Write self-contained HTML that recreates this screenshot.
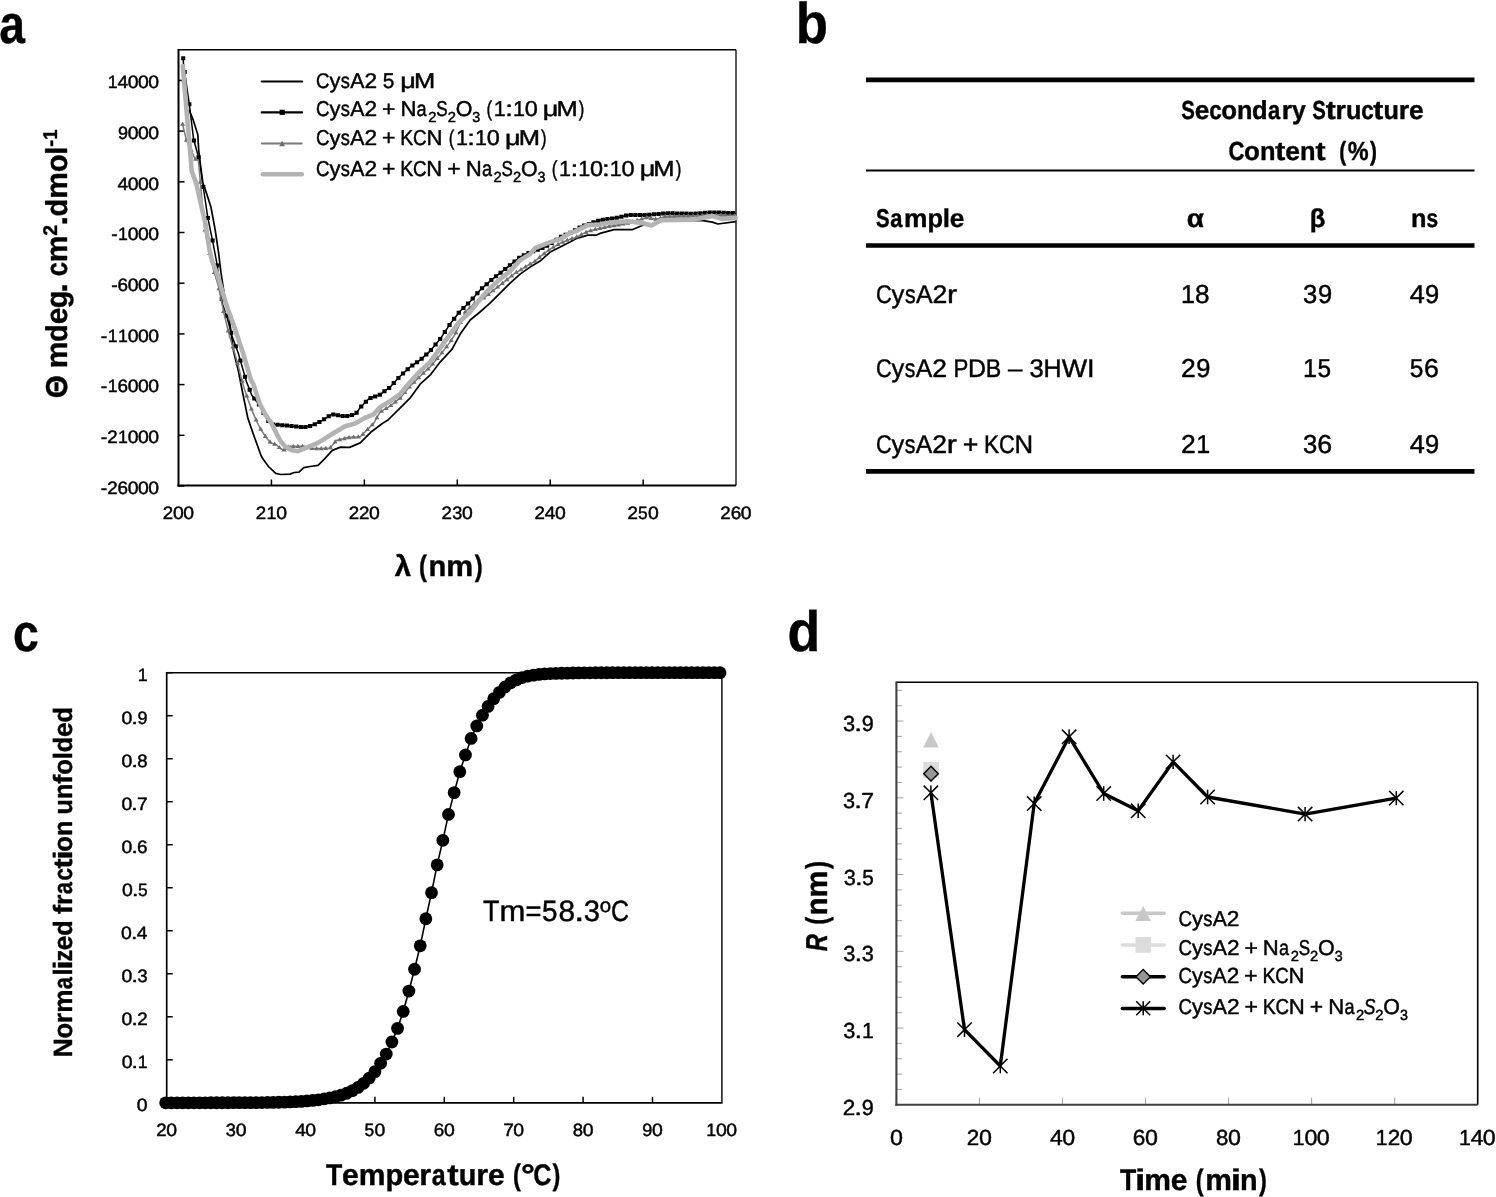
<!DOCTYPE html>
<html><head><meta charset="utf-8"><title>Figure</title><style>html,body{margin:0;padding:0;background:#fff;overflow:hidden}svg{display:block;text-rendering:geometricPrecision;will-change:transform}</style></head><body>
<svg width="1496" height="1197" viewBox="0 0 1496 1197"><line x1="178.5" y1="49.8" x2="736" y2="49.8" stroke="#000" stroke-width="1.6"/>
<line x1="736" y1="49.8" x2="736" y2="485.5" stroke="#000" stroke-width="1.3"/>
<line x1="178.5" y1="49" x2="178.5" y2="486.5" stroke="#000" stroke-width="2"/>
<line x1="177.5" y1="485.5" x2="736" y2="485.5" stroke="#000" stroke-width="2"/>
<line x1="178.5" y1="80.4" x2="184.5" y2="80.4" stroke="#000" stroke-width="1.5"/>
<line x1="178.5" y1="131.1" x2="184.5" y2="131.1" stroke="#000" stroke-width="1.5"/>
<line x1="178.5" y1="181.8" x2="184.5" y2="181.8" stroke="#000" stroke-width="1.5"/>
<line x1="178.5" y1="232.5" x2="184.5" y2="232.5" stroke="#000" stroke-width="1.5"/>
<line x1="178.5" y1="283.2" x2="184.5" y2="283.2" stroke="#000" stroke-width="1.5"/>
<line x1="178.5" y1="333.9" x2="184.5" y2="333.9" stroke="#000" stroke-width="1.5"/>
<line x1="178.5" y1="384.6" x2="184.5" y2="384.6" stroke="#000" stroke-width="1.5"/>
<line x1="178.5" y1="435.3" x2="184.5" y2="435.3" stroke="#000" stroke-width="1.5"/>
<line x1="178.5" y1="486" x2="184.5" y2="486" stroke="#000" stroke-width="1.5"/>
<line x1="271.43" y1="485.5" x2="271.43" y2="479.5" stroke="#000" stroke-width="1.5"/>
<line x1="364.36" y1="485.5" x2="364.36" y2="479.5" stroke="#000" stroke-width="1.5"/>
<line x1="457.29" y1="485.5" x2="457.29" y2="479.5" stroke="#000" stroke-width="1.5"/>
<line x1="550.22" y1="485.5" x2="550.22" y2="479.5" stroke="#000" stroke-width="1.5"/>
<line x1="643.15" y1="485.5" x2="643.15" y2="479.5" stroke="#000" stroke-width="1.5"/>
<polyline points="189,109.7 193.2,119.9 197.8,134.6 198.7,150 200.5,165.2 202.8,182.7 206.9,194.4 211,207.3 215.1,229.5 218.6,252.9 220.9,272.2 224.5,296 228.8,315.1 233.6,351.6 238.3,370.6 242.5,392 247.9,418.3 253.5,434.6 261.2,456 263.2,459.3 268.5,466.5 275.7,473.3 280.9,474.5 290.1,474.1 294.1,472.5 298.9,472.1 303.8,467.7 310,466.5 318,465.4 324.1,459.4 332.3,450.4 340.6,447.1 349.6,447.4 360.2,442.9 370.7,432.3 382.7,423.3 388,420 400,408.2 410,398.2 420.1,384.2 430.1,375.2 440.1,362.1 452.1,349.1 460.2,334.1 470.2,320 480,312 490,303.2 500.1,293.2 510.1,283.1 520.1,274.1 530.1,267.1 540.1,261.1 550.2,252.1 560.2,247.1 570,242.1 575.3,238.9 587.8,235.1 596.6,235.1 600,233.4 614,229.6 632.8,229.6 642.1,225.4 651.5,224 665.5,220.3 702.9,220.7 712.3,222.1 717.9,224 735.7,221.7" fill="none" stroke="#000" stroke-width="1.7" stroke-linejoin="round"/>
<polyline points="183.1,58.3 183.5,63.8 186.5,85 189.5,105.6 193.6,139.2 197.5,153.5 199.2,159.5 203.4,188 207.8,217.6 212.5,240.3 216.9,263.5 222.5,304 227.2,318 232,336 238.3,353.2 246.5,381.7 251.8,395.2 255.8,400.5 259.8,405.5 263.7,413 267,419.5 270.5,423.5 273.3,424.6 282.7,425.2 293.1,426.2 303.6,427.3 309,426.3 315,424.2 322.6,420.3 331.6,414.3 345.1,416.5 355.6,414.3 360.2,407.5 369.2,398.5 380,394.7 390,387.2 400,376.2 410,367.1 420,360.1 430.1,351.1 440.1,339.1 450.1,324 460.2,311 470.2,301.5 480,290.2 490,281.1 500.1,273.1 510.1,265.1 520.1,257.1 530.1,252.1 540.1,249.1 550.2,244.1 560.2,237.1 570,233 581.6,226.3 600.4,220.1 618.7,217.5 628.1,215.1 646.8,215.1 665.5,213.2 693.6,213.7 712.3,212.3 735.7,213.2" fill="none" stroke="#000" stroke-width="1.5" stroke-linejoin="round"/>
<path d="M181.2 56.3h4v4h-4zM182.55 69.93h4.2v4h-4.2zM187.2 102.2h4.2v4h-4.2zM191.84 138.46h4.2v4h-4.2zM196.49 155.35h4.2v4h-4.2zM201.14 184.89h4.2v4h-4.2zM205.78 216h4.2v4h-4.2zM210.43 238.45h4.2v4h-4.2zM215.08 263.49h4.2v4h-4.2zM219.72 297.1h4.2v4h-4.2zM224.37 313.82h4.2v4h-4.2zM229.02 330.68h4.2v4h-4.2zM233.66 344.27h4.2v4h-4.2zM238.31 358.53h4.2v4h-4.2zM242.95 374.68h4.2v4h-4.2zM247.6 387.85h4.2v4h-4.2zM252.25 396.58h4.2v4h-4.2zM256.89 402.49h4.2v4h-4.2zM261.54 410.89h4.2v4h-4.2zM266.19 418.97h4.2v4h-4.2zM270.83 422.46h4.2v4h-4.2zM275.48 422.87h4.2v4h-4.2zM280.13 423.17h4.2v4h-4.2zM284.77 423.6h4.2v4h-4.2zM289.42 424.05h4.2v4h-4.2zM294.07 424.52h4.2v4h-4.2zM298.71 425.01h4.2v4h-4.2zM303.36 424.96h4.2v4h-4.2zM308.01 423.91h4.2v4h-4.2zM312.65 422.29h4.2v4h-4.2zM317.3 419.94h4.2v4h-4.2zM321.95 417.34h4.2v4h-4.2zM326.59 414.24h4.2v4h-4.2zM331.24 412.58h4.2v4h-4.2zM335.88 413.34h4.2v4h-4.2zM340.53 414.1h4.2v4h-4.2zM345.18 414.04h4.2v4h-4.2zM349.82 413.07h4.2v4h-4.2zM354.47 410.87h4.2v4h-4.2zM359.12 404.48h4.2v4h-4.2zM363.76 399.84h4.2v4h-4.2zM368.41 396.04h4.2v4h-4.2zM373.06 394.4h4.2v4h-4.2zM377.7 392.77h4.2v4h-4.2zM382.35 389.36h4.2v4h-4.2zM387 385.88h4.2v4h-4.2zM391.64 381.08h4.2v4h-4.2zM396.29 375.97h4.2v4h-4.2zM400.94 371.44h4.2v4h-4.2zM405.58 367.21h4.2v4h-4.2zM410.23 363.47h4.2v4h-4.2zM414.88 360.22h4.2v4h-4.2zM419.52 356.66h4.2v4h-4.2zM424.17 352.51h4.2v4h-4.2zM428.81 348.12h4.2v4h-4.2zM433.46 342.55h4.2v4h-4.2zM438.11 336.94h4.2v4h-4.2zM442.75 329.92h4.2v4h-4.2zM447.4 322.91h4.2v4h-4.2zM452.05 316.79h4.2v4h-4.2zM456.69 310.81h4.2v4h-4.2zM461.34 305.92h4.2v4h-4.2zM465.99 301.51h4.2v4h-4.2zM470.63 296.58h4.2v4h-4.2zM475.28 291.22h4.2v4h-4.2zM479.93 286.36h4.2v4h-4.2zM484.57 282.13h4.2v4h-4.2zM489.22 278.06h4.2v4h-4.2zM493.87 274.37h4.2v4h-4.2zM498.51 270.69h4.2v4h-4.2zM503.16 266.97h4.2v4h-4.2zM507.81 263.26h4.2v4h-4.2zM512.45 259.54h4.2v4h-4.2zM517.1 255.82h4.2v4h-4.2zM521.74 253.23h4.2v4h-4.2zM526.39 250.9h4.2v4h-4.2zM531.04 249.19h4.2v4h-4.2zM535.68 247.79h4.2v4h-4.2zM540.33 245.95h4.2v4h-4.2zM544.98 243.65h4.2v4h-4.2zM549.62 241.03h4.2v4h-4.2zM554.27 237.78h4.2v4h-4.2zM558.92 234.76h4.2v4h-4.2zM563.56 232.81h4.2v4h-4.2zM568.21 230.82h4.2v4h-4.2zM572.86 228.14h4.2v4h-4.2zM577.5 225.45h4.2v4h-4.2zM582.15 223.43h4.2v4h-4.2zM586.8 221.89h4.2v4h-4.2zM591.44 220.36h4.2v4h-4.2zM596.09 218.83h4.2v4h-4.2zM600.73 217.75h4.2v4h-4.2zM605.38 217.09h4.2v4h-4.2zM610.03 216.43h4.2v4h-4.2zM614.67 215.77h4.2v4h-4.2zM619.32 214.81h4.2v4h-4.2zM623.97 213.62h4.2v4h-4.2zM628.61 213.1h4.2v4h-4.2zM633.26 213.1h4.2v4h-4.2zM637.91 213.1h4.2v4h-4.2zM642.55 213.1h4.2v4h-4.2zM647.2 212.85h4.2v4h-4.2zM651.85 212.37h4.2v4h-4.2zM656.49 211.9h4.2v4h-4.2zM661.14 211.43h4.2v4h-4.2zM665.79 211.24h4.2v4h-4.2zM670.43 211.33h4.2v4h-4.2zM675.08 211.41h4.2v4h-4.2zM679.73 211.49h4.2v4h-4.2zM684.37 211.57h4.2v4h-4.2zM689.02 211.66h4.2v4h-4.2zM693.66 211.54h4.2v4h-4.2zM698.31 211.19h4.2v4h-4.2zM702.96 210.84h4.2v4h-4.2zM707.6 210.49h4.2v4h-4.2zM712.25 210.38h4.2v4h-4.2zM716.9 210.56h4.2v4h-4.2zM721.54 210.74h4.2v4h-4.2zM726.19 210.92h4.2v4h-4.2zM730.84 211.09h4.2v4h-4.2z" fill="#000"/>
<polyline points="182.6,124.4 186.5,140.5 190.5,149 195,158.7 198.4,160.4 201.5,195 204.2,225.8 208.8,250 213.7,270.6 218.5,286.5 224,313.5 229.6,336.5 233.6,349.2 238.3,365.9 243.1,384.9 247.9,399.2 252.6,411.9 257.4,423 261.3,430.2 266.1,437.5 271.2,443.2 276,444.5 281,449 284,450 290,446.3 299,446.3 305,446.2 311,448.5 320,448.6 330.1,448.1 336.1,440.6 348.1,437.6 360.2,436.8 364.7,432.3 373.7,423.3 380,412.2 390,406.2 400,398.2 410,386.2 420.1,376.2 430.1,367.1 440.1,355.1 450.1,342.1 455.2,334.1 465.2,312 475,303 485,297.2 495,289.2 505.1,281.1 515.1,273.1 525.1,267.1 535.1,261.1 542.1,255.1 550.2,249.1 560.2,243.1 570,239.1 575.3,237.6 587.8,231.4 597.9,228.8 610,226.3 628.1,223.1 646.8,217.5 656.1,219.3 665.5,216.5 690,216 712.3,215.1 735.7,215.6" fill="none" stroke="#7a7a7a" stroke-width="1.5" stroke-linejoin="round"/>
<path d="M182.6 121.6l2.5 4.2h-5zM186.4 137.49l2.5 4.2h-5zM191.05 147.58l2.5 4.2h-5zM195.69 156.45l2.5 4.2h-5zM200.34 179.45l2.5 4.2h-5zM204.99 227.34l2.5 4.2h-5zM209.63 250.9l2.5 4.2h-5zM214.28 269.92l2.5 4.2h-5zM218.93 285.99l2.5 4.2h-5zM223.57 308.8l2.5 4.2h-5zM228.22 328.23l2.5 4.2h-5zM232.87 344.27l2.5 4.2h-5zM237.51 360.5l2.5 4.2h-5zM242.16 378.57l2.5 4.2h-5zM246.8 393.34l2.5 4.2h-5zM251.45 406.2l2.5 4.2h-5zM256.1 417.39l2.5 4.2h-5zM260.74 426.57l2.5 4.2h-5zM265.39 433.82l2.5 4.2h-5zM270.04 439.3l2.5 4.2h-5zM274.68 441.54l2.5 4.2h-5zM279.33 444.9l2.5 4.2h-5zM283.98 447.39l2.5 4.2h-5zM288.62 444.55l2.5 4.2h-5zM293.27 443.7l2.5 4.2h-5zM297.92 443.7l2.5 4.2h-5zM302.56 443.64l2.5 4.2h-5zM307.21 444.45l2.5 4.2h-5zM311.86 445.91l2.5 4.2h-5zM316.5 445.96l2.5 4.2h-5zM321.15 445.94l2.5 4.2h-5zM325.8 445.71l2.5 4.2h-5zM330.44 445.07l2.5 4.2h-5zM335.09 439.26l2.5 4.2h-5zM339.73 437.09l2.5 4.2h-5zM344.38 435.93l2.5 4.2h-5zM349.03 434.94l2.5 4.2h-5zM353.67 434.63l2.5 4.2h-5zM358.32 434.32l2.5 4.2h-5zM362.97 431.43l2.5 4.2h-5zM367.61 426.79l2.5 4.2h-5zM372.26 422.14l2.5 4.2h-5zM376.91 415.05l2.5 4.2h-5zM381.55 408.67l2.5 4.2h-5zM386.2 405.88l2.5 4.2h-5zM390.85 402.92l2.5 4.2h-5zM395.49 399.21l2.5 4.2h-5zM400.14 395.43l2.5 4.2h-5zM404.79 389.86l2.5 4.2h-5zM409.43 384.28l2.5 4.2h-5zM414.08 379.56l2.5 4.2h-5zM418.73 374.96l2.5 4.2h-5zM423.37 370.62l2.5 4.2h-5zM428.02 366.39l2.5 4.2h-5zM432.66 361.42l2.5 4.2h-5zM437.31 355.85l2.5 4.2h-5zM441.96 350.09l2.5 4.2h-5zM446.6 344.04l2.5 4.2h-5zM451.25 337.7l2.5 4.2h-5zM455.9 329.96l2.5 4.2h-5zM460.54 319.69l2.5 4.2h-5zM465.19 309.42l2.5 4.2h-5zM469.84 305.14l2.5 4.2h-5zM474.48 300.87l2.5 4.2h-5zM479.13 298l2.5 4.2h-5zM483.78 295.31l2.5 4.2h-5zM488.42 291.86l2.5 4.2h-5zM493.07 288.14l2.5 4.2h-5zM497.72 284.42l2.5 4.2h-5zM502.36 280.7l2.5 4.2h-5zM507.01 276.97l2.5 4.2h-5zM511.66 273.26l2.5 4.2h-5zM516.3 269.78l2.5 4.2h-5zM520.95 266.99l2.5 4.2h-5zM525.59 264.2l2.5 4.2h-5zM530.24 261.42l2.5 4.2h-5zM534.89 258.63l2.5 4.2h-5zM539.53 254.7l2.5 4.2h-5zM544.18 250.96l2.5 4.2h-5zM548.83 247.52l2.5 4.2h-5zM553.47 244.54l2.5 4.2h-5zM558.12 241.75l2.5 4.2h-5zM562.77 239.45l2.5 4.2h-5zM567.41 237.56l2.5 4.2h-5zM572.06 235.92l2.5 4.2h-5zM576.71 234.3l2.5 4.2h-5zM581.35 232l2.5 4.2h-5zM586 229.69l2.5 4.2h-5zM590.65 228.07l2.5 4.2h-5zM595.29 226.87l2.5 4.2h-5zM599.94 225.78l2.5 4.2h-5zM604.58 224.82l2.5 4.2h-5zM609.23 223.86l2.5 4.2h-5zM613.88 223.01l2.5 4.2h-5zM618.52 222.19l2.5 4.2h-5zM623.17 221.37l2.5 4.2h-5zM627.82 220.55l2.5 4.2h-5zM632.46 219.19l2.5 4.2h-5zM637.11 217.8l2.5 4.2h-5zM641.76 216.41l2.5 4.2h-5zM646.4 215.02l2.5 4.2h-5zM651.05 215.72l2.5 4.2h-5zM655.7 216.62l2.5 4.2h-5zM660.34 215.44l2.5 4.2h-5zM664.99 214.05l2.5 4.2h-5zM669.64 213.82l2.5 4.2h-5zM674.28 213.72l2.5 4.2h-5zM678.93 213.63l2.5 4.2h-5zM683.58 213.53l2.5 4.2h-5zM688.22 213.44l2.5 4.2h-5zM692.87 213.28l2.5 4.2h-5zM697.51 213.1l2.5 4.2h-5zM702.16 212.91l2.5 4.2h-5zM706.81 212.72l2.5 4.2h-5zM711.45 212.53l2.5 4.2h-5zM716.1 212.58l2.5 4.2h-5zM720.75 212.68l2.5 4.2h-5zM725.39 212.78l2.5 4.2h-5zM730.04 212.88l2.5 4.2h-5zM734.69 212.98l2.5 4.2h-5z" fill="#6e6e6e"/>
<polyline points="182.8,66 186.5,110 190.9,160 191.7,171.1 196.4,183.9 201.1,205 205.7,224.9 209.5,250 212.1,261.1 217.7,275.4 225.6,302.4 235.2,329.4 243.1,353.2 251,380.2 253.5,384.6 259.4,402.7 265.2,414.4 271.1,422.6 276.9,434.3 280.5,441 284.8,446.1 291,450 297.3,451.3 305.6,448.2 318,442.9 330.1,435.3 345.1,426.3 355.6,423.3 364.7,418 373.7,414.3 380,407.2 390,401.2 400,394.2 410,382.2 420.1,371.1 430.1,362.1 440.1,348.1 450.1,334.1 460.2,321 470,312.2 480,299.2 490,288.2 500.1,279.1 510.1,271.1 520.1,260.1 530.1,254.1 535.1,248.1 540.1,246.1 550.2,242.1 560.2,239.1 570,233 575.3,231.4 587.8,225.1 600,224.5 610,222.6 628.1,221.2 642.1,223.1 651.5,225.4 660.8,220.3 693.6,219.8 712.3,216.1 721.7,218.9 735.7,217.9" fill="none" stroke="#b3b3b3" stroke-width="4.6" stroke-linejoin="round" stroke-linecap="round"/>
<line x1="261.7" y1="81.5" x2="302.1" y2="81.5" stroke="#000" stroke-width="2.1" stroke-linecap="round"/>
<line x1="261.7" y1="112.4" x2="302.1" y2="112.4" stroke="#000" stroke-width="2.1" stroke-linecap="round"/>
<rect x="279.6" y="109.7" width="5.2" height="5.2" fill="#000"/>
<line x1="261.8" y1="143.5" x2="301.8" y2="143.5" stroke="#7a7a7a" stroke-width="1.9" stroke-linecap="round"/>
<path d="M282.1 140.6l2.9 5.6h-5.8z" fill="#6e6e6e"/>
<line x1="262.8" y1="174.3" x2="301.8" y2="174.3" stroke="#b3b3b3" stroke-width="4.5" stroke-linecap="round"/>
<line x1="866" y1="79.9" x2="1474.5" y2="79.9" stroke="#000" stroke-width="4.7"/>
<line x1="866" y1="170.4" x2="1474.5" y2="170.4" stroke="#000" stroke-width="2"/>
<line x1="866" y1="245.5" x2="1474.5" y2="245.5" stroke="#000" stroke-width="4.7"/>
<line x1="866" y1="471.3" x2="1474.5" y2="471.3" stroke="#000" stroke-width="4.8"/>
<line x1="166.7" y1="672.7" x2="721.9" y2="672.7" stroke="#000" stroke-width="1.4"/>
<line x1="721.9" y1="672.7" x2="721.9" y2="1102.8" stroke="#000" stroke-width="1.4"/>
<line x1="166.7" y1="672" x2="166.7" y2="1103.6" stroke="#000" stroke-width="1.7"/>
<line x1="165.9" y1="1102.8" x2="722.6" y2="1102.8" stroke="#000" stroke-width="1.7"/>
<line x1="166.7" y1="1059.79" x2="172.7" y2="1059.79" stroke="#000" stroke-width="1.5"/>
<line x1="166.7" y1="1016.78" x2="172.7" y2="1016.78" stroke="#000" stroke-width="1.5"/>
<line x1="166.7" y1="973.77" x2="172.7" y2="973.77" stroke="#000" stroke-width="1.5"/>
<line x1="166.7" y1="930.76" x2="172.7" y2="930.76" stroke="#000" stroke-width="1.5"/>
<line x1="166.7" y1="887.75" x2="172.7" y2="887.75" stroke="#000" stroke-width="1.5"/>
<line x1="166.7" y1="844.74" x2="172.7" y2="844.74" stroke="#000" stroke-width="1.5"/>
<line x1="166.7" y1="801.73" x2="172.7" y2="801.73" stroke="#000" stroke-width="1.5"/>
<line x1="166.7" y1="758.72" x2="172.7" y2="758.72" stroke="#000" stroke-width="1.5"/>
<line x1="166.7" y1="715.71" x2="172.7" y2="715.71" stroke="#000" stroke-width="1.5"/>
<line x1="166.7" y1="672.7" x2="172.7" y2="672.7" stroke="#000" stroke-width="1.5"/>
<line x1="236.1" y1="1102.8" x2="236.1" y2="1096.8" stroke="#000" stroke-width="1.5"/>
<line x1="305.5" y1="1102.8" x2="305.5" y2="1096.8" stroke="#000" stroke-width="1.5"/>
<line x1="374.9" y1="1102.8" x2="374.9" y2="1096.8" stroke="#000" stroke-width="1.5"/>
<line x1="444.3" y1="1102.8" x2="444.3" y2="1096.8" stroke="#000" stroke-width="1.5"/>
<line x1="513.7" y1="1102.8" x2="513.7" y2="1096.8" stroke="#000" stroke-width="1.5"/>
<line x1="583.1" y1="1102.8" x2="583.1" y2="1096.8" stroke="#000" stroke-width="1.5"/>
<line x1="652.5" y1="1102.8" x2="652.5" y2="1096.8" stroke="#000" stroke-width="1.5"/>
<polyline points="165.66,1102.8 171.32,1102.79 176.97,1102.79 182.63,1102.79 188.29,1102.79 193.94,1102.79 199.6,1102.78 205.26,1102.78 210.91,1102.77 216.57,1102.76 222.23,1102.75 227.88,1102.74 233.54,1102.72 239.2,1102.7 244.85,1102.68 250.51,1102.64 256.17,1102.6 261.82,1102.54 267.48,1102.47 273.14,1102.37 278.79,1102.26 284.45,1102.1 290.11,1101.91 295.76,1101.66 301.42,1101.35 307.07,1100.95 312.73,1100.44 318.39,1099.78 324.04,1098.95 329.7,1097.91 335.36,1096.75 341.01,1095.22 346.67,1093.25 352.33,1090.7 357.98,1087.44 363.64,1083.31 369.3,1078.09 374.95,1071.62 380.61,1063.29 386.27,1054.06 391.92,1042 397.58,1028.35 403.24,1011.47 408.89,991.06 414.55,969.26 420.21,945.79 425.86,918.77 431.52,892.7 437.18,864.9 442.83,840.32 448.49,814.41 454.15,792.6 459.8,771.71 465.46,754.92 471.12,738.43 476.77,725.97 482.43,715.17 488.09,706.47 493.74,698.74 499.4,692.4 505.06,686.94 510.71,682.83 516.37,679.85 522.03,677.59 527.68,676.17 533.34,675.14 539,674.41 544.65,673.91 550.31,673.57 555.97,673.37 561.62,673.26 567.28,673.1 572.94,672.98 578.59,672.89 584.25,672.83 589.9,672.79 595.56,672.76 601.22,672.74 606.87,672.73 612.53,672.72 618.19,672.71 623.84,672.71 629.5,672.7 635.16,672.7 640.81,672.7 646.47,672.7 652.13,672.7 657.78,672.7 663.44,672.7 669.1,672.7 674.75,672.7 680.41,672.7 686.07,672.7 691.72,672.7 697.38,672.7 703.04,672.7 708.69,672.7 714.35,672.7 720.01,672.7" fill="none" stroke="#000" stroke-width="1.6"/>
<g fill="#000"><circle cx="165.66" cy="1102.8" r="6.4"/><circle cx="171.32" cy="1102.79" r="6.4"/><circle cx="176.97" cy="1102.79" r="6.4"/><circle cx="182.63" cy="1102.79" r="6.4"/><circle cx="188.29" cy="1102.79" r="6.4"/><circle cx="193.94" cy="1102.79" r="6.4"/><circle cx="199.6" cy="1102.78" r="6.4"/><circle cx="205.26" cy="1102.78" r="6.4"/><circle cx="210.91" cy="1102.77" r="6.4"/><circle cx="216.57" cy="1102.76" r="6.4"/><circle cx="222.23" cy="1102.75" r="6.4"/><circle cx="227.88" cy="1102.74" r="6.4"/><circle cx="233.54" cy="1102.72" r="6.4"/><circle cx="239.2" cy="1102.7" r="6.4"/><circle cx="244.85" cy="1102.68" r="6.4"/><circle cx="250.51" cy="1102.64" r="6.4"/><circle cx="256.17" cy="1102.6" r="6.4"/><circle cx="261.82" cy="1102.54" r="6.4"/><circle cx="267.48" cy="1102.47" r="6.4"/><circle cx="273.14" cy="1102.37" r="6.4"/><circle cx="278.79" cy="1102.26" r="6.4"/><circle cx="284.45" cy="1102.1" r="6.4"/><circle cx="290.11" cy="1101.91" r="6.4"/><circle cx="295.76" cy="1101.66" r="6.4"/><circle cx="301.42" cy="1101.35" r="6.4"/><circle cx="307.07" cy="1100.95" r="6.4"/><circle cx="312.73" cy="1100.44" r="6.4"/><circle cx="318.39" cy="1099.78" r="6.4"/><circle cx="324.04" cy="1098.95" r="6.4"/><circle cx="329.7" cy="1097.91" r="6.4"/><circle cx="335.36" cy="1096.75" r="6.4"/><circle cx="341.01" cy="1095.22" r="6.4"/><circle cx="346.67" cy="1093.25" r="6.4"/><circle cx="352.33" cy="1090.7" r="6.4"/><circle cx="357.98" cy="1087.44" r="6.4"/><circle cx="363.64" cy="1083.31" r="6.4"/><circle cx="369.3" cy="1078.09" r="6.4"/><circle cx="374.95" cy="1071.62" r="6.4"/><circle cx="380.61" cy="1063.29" r="6.4"/><circle cx="386.27" cy="1054.06" r="6.4"/><circle cx="391.92" cy="1042" r="6.4"/><circle cx="397.58" cy="1028.35" r="6.4"/><circle cx="403.24" cy="1011.47" r="6.4"/><circle cx="408.89" cy="991.06" r="6.4"/><circle cx="414.55" cy="969.26" r="6.4"/><circle cx="420.21" cy="945.79" r="6.4"/><circle cx="425.86" cy="918.77" r="6.4"/><circle cx="431.52" cy="892.7" r="6.4"/><circle cx="437.18" cy="864.9" r="6.4"/><circle cx="442.83" cy="840.32" r="6.4"/><circle cx="448.49" cy="814.41" r="6.4"/><circle cx="454.15" cy="792.6" r="6.4"/><circle cx="459.8" cy="771.71" r="6.4"/><circle cx="465.46" cy="754.92" r="6.4"/><circle cx="471.12" cy="738.43" r="6.4"/><circle cx="476.77" cy="725.97" r="6.4"/><circle cx="482.43" cy="715.17" r="6.4"/><circle cx="488.09" cy="706.47" r="6.4"/><circle cx="493.74" cy="698.74" r="6.4"/><circle cx="499.4" cy="692.4" r="6.4"/><circle cx="505.06" cy="686.94" r="6.4"/><circle cx="510.71" cy="682.83" r="6.4"/><circle cx="516.37" cy="679.85" r="6.4"/><circle cx="522.03" cy="677.59" r="6.4"/><circle cx="527.68" cy="676.17" r="6.4"/><circle cx="533.34" cy="675.14" r="6.4"/><circle cx="539" cy="674.41" r="6.4"/><circle cx="544.65" cy="673.91" r="6.4"/><circle cx="550.31" cy="673.57" r="6.4"/><circle cx="555.97" cy="673.37" r="6.4"/><circle cx="561.62" cy="673.26" r="6.4"/><circle cx="567.28" cy="673.1" r="6.4"/><circle cx="572.94" cy="672.98" r="6.4"/><circle cx="578.59" cy="672.89" r="6.4"/><circle cx="584.25" cy="672.83" r="6.4"/><circle cx="589.9" cy="672.79" r="6.4"/><circle cx="595.56" cy="672.76" r="6.4"/><circle cx="601.22" cy="672.74" r="6.4"/><circle cx="606.87" cy="672.73" r="6.4"/><circle cx="612.53" cy="672.72" r="6.4"/><circle cx="618.19" cy="672.71" r="6.4"/><circle cx="623.84" cy="672.71" r="6.4"/><circle cx="629.5" cy="672.7" r="6.4"/><circle cx="635.16" cy="672.7" r="6.4"/><circle cx="640.81" cy="672.7" r="6.4"/><circle cx="646.47" cy="672.7" r="6.4"/><circle cx="652.13" cy="672.7" r="6.4"/><circle cx="657.78" cy="672.7" r="6.4"/><circle cx="663.44" cy="672.7" r="6.4"/><circle cx="669.1" cy="672.7" r="6.4"/><circle cx="674.75" cy="672.7" r="6.4"/><circle cx="680.41" cy="672.7" r="6.4"/><circle cx="686.07" cy="672.7" r="6.4"/><circle cx="691.72" cy="672.7" r="6.4"/><circle cx="697.38" cy="672.7" r="6.4"/><circle cx="703.04" cy="672.7" r="6.4"/><circle cx="708.69" cy="672.7" r="6.4"/><circle cx="714.35" cy="672.7" r="6.4"/><circle cx="720.01" cy="672.7" r="6.4"/></g>
<line x1="896.4" y1="682.2" x2="1477.7" y2="682.2" stroke="#000" stroke-width="1.6"/>
<line x1="1477.7" y1="682.2" x2="1477.7" y2="1104.8" stroke="#000" stroke-width="1.6"/>
<line x1="896.4" y1="1089.45" x2="901.9" y2="1089.45" stroke="#a6a6a6" stroke-width="1.1"/>
<line x1="896.4" y1="1074.1" x2="901.9" y2="1074.1" stroke="#a6a6a6" stroke-width="1.1"/>
<line x1="896.4" y1="1058.75" x2="901.9" y2="1058.75" stroke="#a6a6a6" stroke-width="1.1"/>
<line x1="896.4" y1="1043.4" x2="901.9" y2="1043.4" stroke="#a6a6a6" stroke-width="1.1"/>
<line x1="896.4" y1="1028.05" x2="903.4" y2="1028.05" stroke="#a6a6a6" stroke-width="1.1"/>
<line x1="896.4" y1="1012.7" x2="901.9" y2="1012.7" stroke="#a6a6a6" stroke-width="1.1"/>
<line x1="896.4" y1="997.35" x2="901.9" y2="997.35" stroke="#a6a6a6" stroke-width="1.1"/>
<line x1="896.4" y1="982" x2="901.9" y2="982" stroke="#a6a6a6" stroke-width="1.1"/>
<line x1="896.4" y1="966.65" x2="901.9" y2="966.65" stroke="#a6a6a6" stroke-width="1.1"/>
<line x1="896.4" y1="951.3" x2="903.4" y2="951.3" stroke="#a6a6a6" stroke-width="1.1"/>
<line x1="896.4" y1="935.95" x2="901.9" y2="935.95" stroke="#a6a6a6" stroke-width="1.1"/>
<line x1="896.4" y1="920.6" x2="901.9" y2="920.6" stroke="#a6a6a6" stroke-width="1.1"/>
<line x1="896.4" y1="905.25" x2="901.9" y2="905.25" stroke="#a6a6a6" stroke-width="1.1"/>
<line x1="896.4" y1="889.9" x2="901.9" y2="889.9" stroke="#a6a6a6" stroke-width="1.1"/>
<line x1="896.4" y1="874.55" x2="903.4" y2="874.55" stroke="#a6a6a6" stroke-width="1.1"/>
<line x1="896.4" y1="859.2" x2="901.9" y2="859.2" stroke="#a6a6a6" stroke-width="1.1"/>
<line x1="896.4" y1="843.85" x2="901.9" y2="843.85" stroke="#a6a6a6" stroke-width="1.1"/>
<line x1="896.4" y1="828.5" x2="901.9" y2="828.5" stroke="#a6a6a6" stroke-width="1.1"/>
<line x1="896.4" y1="813.15" x2="901.9" y2="813.15" stroke="#a6a6a6" stroke-width="1.1"/>
<line x1="896.4" y1="797.8" x2="903.4" y2="797.8" stroke="#a6a6a6" stroke-width="1.1"/>
<line x1="896.4" y1="782.45" x2="901.9" y2="782.45" stroke="#a6a6a6" stroke-width="1.1"/>
<line x1="896.4" y1="767.1" x2="901.9" y2="767.1" stroke="#a6a6a6" stroke-width="1.1"/>
<line x1="896.4" y1="751.75" x2="901.9" y2="751.75" stroke="#a6a6a6" stroke-width="1.1"/>
<line x1="896.4" y1="736.4" x2="901.9" y2="736.4" stroke="#a6a6a6" stroke-width="1.1"/>
<line x1="896.4" y1="721.05" x2="903.4" y2="721.05" stroke="#a6a6a6" stroke-width="1.1"/>
<line x1="896.4" y1="705.7" x2="901.9" y2="705.7" stroke="#a6a6a6" stroke-width="1.1"/>
<line x1="896.4" y1="690.35" x2="901.9" y2="690.35" stroke="#a6a6a6" stroke-width="1.1"/>
<line x1="979.44" y1="1104.8" x2="979.44" y2="1097.8" stroke="#a6a6a6" stroke-width="1.1"/>
<line x1="1062.48" y1="1104.8" x2="1062.48" y2="1097.8" stroke="#a6a6a6" stroke-width="1.1"/>
<line x1="1145.52" y1="1104.8" x2="1145.52" y2="1097.8" stroke="#a6a6a6" stroke-width="1.1"/>
<line x1="1228.56" y1="1104.8" x2="1228.56" y2="1097.8" stroke="#a6a6a6" stroke-width="1.1"/>
<line x1="1311.6" y1="1104.8" x2="1311.6" y2="1097.8" stroke="#a6a6a6" stroke-width="1.1"/>
<line x1="1394.64" y1="1104.8" x2="1394.64" y2="1097.8" stroke="#a6a6a6" stroke-width="1.1"/>
<line x1="896.4" y1="681.4" x2="896.4" y2="1105.8" stroke="#404040" stroke-width="2.1"/>
<line x1="895.4" y1="1104.8" x2="1477.7" y2="1104.8" stroke="#404040" stroke-width="2.1"/>
<polyline points="930.9,792.8 964.5,1029.7 1000.3,1066 1034.2,803.6 1069.1,736.8 1103.7,793.5 1138.2,810.8 1173.1,761.9 1207.6,797 1305.1,814.1 1396.3,798.1" fill="none" stroke="#000" stroke-width="3.3" stroke-linejoin="round"/>
<path d="M930.9 785.6v14.4M923.7 785.6l14.4 14.4M938.1 785.6l-14.4 14.4" stroke="#000" stroke-width="1.5" fill="none"/>
<path d="M964.5 1022.5v14.4M957.3 1022.5l14.4 14.4M971.7 1022.5l-14.4 14.4" stroke="#000" stroke-width="1.5" fill="none"/>
<path d="M1000.3 1058.8v14.4M993.1 1058.8l14.4 14.4M1007.5 1058.8l-14.4 14.4" stroke="#000" stroke-width="1.5" fill="none"/>
<path d="M1034.2 796.4v14.4M1027 796.4l14.4 14.4M1041.4 796.4l-14.4 14.4" stroke="#000" stroke-width="1.5" fill="none"/>
<path d="M1069.1 729.6v14.4M1061.9 729.6l14.4 14.4M1076.3 729.6l-14.4 14.4" stroke="#000" stroke-width="1.5" fill="none"/>
<path d="M1103.7 786.3v14.4M1096.5 786.3l14.4 14.4M1110.9 786.3l-14.4 14.4" stroke="#000" stroke-width="1.5" fill="none"/>
<path d="M1138.2 803.6v14.4M1131 803.6l14.4 14.4M1145.4 803.6l-14.4 14.4" stroke="#000" stroke-width="1.5" fill="none"/>
<path d="M1173.1 754.7v14.4M1165.9 754.7l14.4 14.4M1180.3 754.7l-14.4 14.4" stroke="#000" stroke-width="1.5" fill="none"/>
<path d="M1207.6 789.8v14.4M1200.4 789.8l14.4 14.4M1214.8 789.8l-14.4 14.4" stroke="#000" stroke-width="1.5" fill="none"/>
<path d="M1305.1 806.9v14.4M1297.9 806.9l14.4 14.4M1312.3 806.9l-14.4 14.4" stroke="#000" stroke-width="1.5" fill="none"/>
<path d="M1396.3 790.9v14.4M1389.1 790.9l14.4 14.4M1403.5 790.9l-14.4 14.4" stroke="#000" stroke-width="1.5" fill="none"/>
<path d="M931 732l7.8 15.4h-15.6z" fill="#c8c8c8"/>
<rect x="923.2" y="762" width="15.7" height="15.7" fill="#dcdcdc"/>
<path d="M931 766.3l7.3 7.4-7.3 7.4-7.3-7.4z" fill="#969696" stroke="#000" stroke-width="1.4"/>
<line x1="1122.3" y1="913.2" x2="1164.2" y2="913.2" stroke="#c8c8c8" stroke-width="3.4" stroke-linecap="round"/>
<path d="M1143.2 905.9l7.8 15.2h-15.6z" fill="#c8c8c8"/>
<line x1="1122.3" y1="945" x2="1164.2" y2="945" stroke="#dcdcdc" stroke-width="3.4" stroke-linecap="round"/>
<rect x="1135.5" y="937.1" width="15.6" height="15.7" fill="#dcdcdc"/>
<line x1="1122.3" y1="976.7" x2="1164.2" y2="976.7" stroke="#000" stroke-width="3.4" stroke-linecap="round"/>
<path d="M1143.2 969.6l7.2 7.2-7.2 7.2-7.2-7.2z" fill="#969696" stroke="#000" stroke-width="1.4"/>
<line x1="1122.3" y1="1008.5" x2="1164.2" y2="1008.5" stroke="#000" stroke-width="3.4" stroke-linecap="round"/>
<path d="M1143.2 1001.3v14M1136.2 1001.3l14 14M1150.2 1001.3l-14 14" stroke="#000" stroke-width="1.5" fill="none"/>
<text x="0" y="0" font-family='"Liberation Sans", sans-serif' font-size="54.00" font-weight="bold" stroke="#000" stroke-width="0.40" stroke-linejoin="round" transform="translate(-0.78,42.64) scale(0.8552,1.0100)"><tspan>a</tspan></text>
<text x="0" y="0" font-family='"Liberation Sans", sans-serif' font-size="54.00" font-weight="bold" stroke="#000" stroke-width="0.40" stroke-linejoin="round" transform="translate(795.83,42.5) scale(0.9766,1.0625)"><tspan>b</tspan></text>
<text x="0" y="0" font-family='"Liberation Sans", sans-serif' font-size="54.00" font-weight="bold" stroke="#000" stroke-width="0.40" stroke-linejoin="round" transform="translate(12.88,651.47) scale(0.8598,0.9733)"><tspan>c</tspan></text>
<text x="0" y="0" font-family='"Liberation Sans", sans-serif' font-size="54.00" font-weight="bold" stroke="#000" stroke-width="0.40" stroke-linejoin="round" transform="translate(787.61,651.11) scale(0.9927,1.0575)"><tspan>d</tspan></text>
<g font-family='"Liberation Sans", sans-serif' font-size="17.97" font-weight="normal" stroke="#000" stroke-width="0.45" stroke-linejoin="round"><text transform="matrix(0.9889,0,0,1,107.64,88.24)">1</text><text transform="matrix(1.0662,0,0,1,117.48,88.24)">4</text><text transform="matrix(1.0810,0,0,1,127.68,88.24)">0</text><text transform="matrix(1.0810,0,0,1,138.02,88.24)">0</text><text transform="matrix(1.0810,0,0,1,148.36,88.24)">0</text></g>
<g font-family='"Liberation Sans", sans-serif' font-size="17.97" font-weight="normal" stroke="#000" stroke-width="0.45" stroke-linejoin="round"><text transform="matrix(1.0047,0,0,1,118.03,138.94)">9</text><text transform="matrix(1.0810,0,0,1,127.68,138.94)">0</text><text transform="matrix(1.0810,0,0,1,138.02,138.94)">0</text><text transform="matrix(1.0810,0,0,1,148.36,138.94)">0</text></g>
<g font-family='"Liberation Sans", sans-serif' font-size="17.97" font-weight="normal" stroke="#000" stroke-width="0.45" stroke-linejoin="round"><text transform="matrix(1.0662,0,0,1,117.48,189.64)">4</text><text transform="matrix(1.0810,0,0,1,127.68,189.64)">0</text><text transform="matrix(1.0810,0,0,1,138.02,189.64)">0</text><text transform="matrix(1.0810,0,0,1,148.36,189.64)">0</text></g>
<g font-family='"Liberation Sans", sans-serif' font-size="17.97" font-weight="normal" stroke="#000" stroke-width="0.45" stroke-linejoin="round"><text transform="matrix(1.0855,0,0,1,111.21,240.34)">-</text><text transform="matrix(0.9889,0,0,1,117.98,240.34)">1</text><text transform="matrix(1.0810,0,0,1,127.68,240.34)">0</text><text transform="matrix(1.0810,0,0,1,138.02,240.34)">0</text><text transform="matrix(1.0810,0,0,1,148.36,240.34)">0</text></g>
<g font-family='"Liberation Sans", sans-serif' font-size="17.97" font-weight="normal" stroke="#000" stroke-width="0.45" stroke-linejoin="round"><text transform="matrix(1.0855,0,0,1,111.21,291.04)">-</text><text transform="matrix(1.0514,0,0,1,117.53,291.04)">6</text><text transform="matrix(1.0810,0,0,1,127.68,291.04)">0</text><text transform="matrix(1.0810,0,0,1,138.02,291.04)">0</text><text transform="matrix(1.0810,0,0,1,148.36,291.04)">0</text></g>
<g font-family='"Liberation Sans", sans-serif' font-size="17.97" font-weight="normal" stroke="#000" stroke-width="0.45" stroke-linejoin="round"><text transform="matrix(1.0855,0,0,1,100.87,341.74)">-</text><text transform="matrix(0.9889,0,0,1,107.64,341.74)">1</text><text transform="matrix(0.9889,0,0,1,117.98,341.74)">1</text><text transform="matrix(1.0810,0,0,1,127.68,341.74)">0</text><text transform="matrix(1.0810,0,0,1,138.02,341.74)">0</text><text transform="matrix(1.0810,0,0,1,148.36,341.74)">0</text></g>
<g font-family='"Liberation Sans", sans-serif' font-size="17.97" font-weight="normal" stroke="#000" stroke-width="0.45" stroke-linejoin="round"><text transform="matrix(1.0855,0,0,1,100.87,392.44)">-</text><text transform="matrix(0.9889,0,0,1,107.64,392.44)">1</text><text transform="matrix(1.0514,0,0,1,117.53,392.44)">6</text><text transform="matrix(1.0810,0,0,1,127.68,392.44)">0</text><text transform="matrix(1.0810,0,0,1,138.02,392.44)">0</text><text transform="matrix(1.0810,0,0,1,148.36,392.44)">0</text></g>
<g font-family='"Liberation Sans", sans-serif' font-size="17.97" font-weight="normal" stroke="#000" stroke-width="0.45" stroke-linejoin="round"><text transform="matrix(1.0855,0,0,1,100.87,443.14)">-</text><text transform="matrix(1.0454,0,0,1,107.20,443.14)">2</text><text transform="matrix(0.9889,0,0,1,117.98,443.14)">1</text><text transform="matrix(1.0810,0,0,1,127.68,443.14)">0</text><text transform="matrix(1.0810,0,0,1,138.02,443.14)">0</text><text transform="matrix(1.0810,0,0,1,148.36,443.14)">0</text></g>
<g font-family='"Liberation Sans", sans-serif' font-size="17.97" font-weight="normal" stroke="#000" stroke-width="0.45" stroke-linejoin="round"><text transform="matrix(1.0855,0,0,1,100.87,493.84)">-</text><text transform="matrix(1.0454,0,0,1,107.20,493.84)">2</text><text transform="matrix(1.0514,0,0,1,117.53,493.84)">6</text><text transform="matrix(1.0810,0,0,1,127.68,493.84)">0</text><text transform="matrix(1.0810,0,0,1,138.02,493.84)">0</text><text transform="matrix(1.0810,0,0,1,148.36,493.84)">0</text></g>
<g font-family='"Liberation Sans", sans-serif' font-size="17.97" font-weight="normal" stroke="#000" stroke-width="0.45" stroke-linejoin="round"><text transform="matrix(1.0454,0,0,1,162.77,519.04)">2</text><text transform="matrix(1.0810,0,0,1,172.91,519.04)">0</text><text transform="matrix(1.0810,0,0,1,183.24,519.04)">0</text></g>
<g font-family='"Liberation Sans", sans-serif' font-size="17.97" font-weight="normal" stroke="#000" stroke-width="0.45" stroke-linejoin="round"><text transform="matrix(1.0454,0,0,1,255.70,519.04)">2</text><text transform="matrix(0.9889,0,0,1,266.48,519.04)">1</text><text transform="matrix(1.0810,0,0,1,276.17,519.04)">0</text></g>
<g font-family='"Liberation Sans", sans-serif' font-size="17.97" font-weight="normal" stroke="#000" stroke-width="0.45" stroke-linejoin="round"><text transform="matrix(1.0454,0,0,1,348.63,519.04)">2</text><text transform="matrix(1.0454,0,0,1,358.97,519.04)">2</text><text transform="matrix(1.0810,0,0,1,369.10,519.04)">0</text></g>
<g font-family='"Liberation Sans", sans-serif' font-size="17.97" font-weight="normal" stroke="#000" stroke-width="0.45" stroke-linejoin="round"><text transform="matrix(1.0454,0,0,1,441.56,519.04)">2</text><text transform="matrix(1.0115,0,0,1,452.18,519.04)">3</text><text transform="matrix(1.0810,0,0,1,462.03,519.04)">0</text></g>
<g font-family='"Liberation Sans", sans-serif' font-size="17.97" font-weight="normal" stroke="#000" stroke-width="0.45" stroke-linejoin="round"><text transform="matrix(1.0454,0,0,1,534.49,519.04)">2</text><text transform="matrix(1.0662,0,0,1,544.77,519.04)">4</text><text transform="matrix(1.0810,0,0,1,554.96,519.04)">0</text></g>
<g font-family='"Liberation Sans", sans-serif' font-size="17.97" font-weight="normal" stroke="#000" stroke-width="0.45" stroke-linejoin="round"><text transform="matrix(1.0454,0,0,1,627.42,519.04)">2</text><text transform="matrix(0.9636,0,0,1,638.02,519.04)">5</text><text transform="matrix(1.0810,0,0,1,647.89,519.04)">0</text></g>
<g font-family='"Liberation Sans", sans-serif' font-size="17.97" font-weight="normal" stroke="#000" stroke-width="0.45" stroke-linejoin="round"><text transform="matrix(1.0454,0,0,1,720.35,519.04)">2</text><text transform="matrix(1.0514,0,0,1,730.67,519.04)">6</text><text transform="matrix(1.0810,0,0,1,740.82,519.04)">0</text></g>
<g font-family='"Liberation Sans", sans-serif' font-size="29.41" font-weight="bold" stroke="#000" stroke-width="0.40" stroke-linejoin="round"><text transform="matrix(0.9969,0,0,1,394.67,576.44)">λ</text> <text transform="matrix(0.8077,0,0,1,419.02,576.44)">(</text><text transform="matrix(0.9883,0,0,1,428.59,576.44)">n</text><text transform="matrix(1.0307,0,0,1,446.34,576.44)">m</text><text transform="matrix(0.8077,0,0,1,474.77,576.44)">)</text></g>
<g font-family='"Liberation Sans", sans-serif' font-size="30.20" font-weight="bold" stroke="#000" stroke-width="0.40" stroke-linejoin="round"><text transform="matrix(0,-0.9815,1,0,67.13,398.28)">Θ</text> <text transform="matrix(0,-0.9911,1,0,67.13,368.25)">m</text><text transform="matrix(0,-0.9568,1,0,67.13,341.91)">d</text><text transform="matrix(0,-0.9919,1,0,67.13,324.35)">e</text><text transform="matrix(0,-0.9482,1,0,67.13,308.15)">g</text><text transform="matrix(0,-1.1427,1,0,67.13,292.64)">.</text> <text transform="matrix(0,-0.8465,1,0,67.13,276.22)">c</text><text transform="matrix(0,-0.9911,1,0,67.13,262.35)">m</text><text transform="matrix(0,-0.9712,1,0,57.16,235.78)" font-size="19.93">2</text><text transform="matrix(0,-1.1427,1,0,67.13,225.47)">.</text><text transform="matrix(0,-0.9568,1,0,67.13,216.50)">d</text><text transform="matrix(0,-0.9911,1,0,67.13,198.71)">m</text><text transform="matrix(0,-0.9696,1,0,67.13,172.34)">o</text><text transform="matrix(0,-0.9787,1,0,67.13,154.68)">l</text><text transform="matrix(0,-1.0356,1,0,57.16,146.75)" font-size="19.93">-</text><text transform="matrix(0,-0.9220,1,0,57.16,139.81)" font-size="19.93">1</text></g>
<g font-family='"Liberation Sans", sans-serif' font-size="21.31" font-weight="normal" stroke="#000" stroke-width="0.45" stroke-linejoin="round"><text transform="matrix(0.8787,0,0,1,316.05,87.53)">C</text><text transform="matrix(1.0282,0,0,1,329.42,87.53)">y</text><text transform="matrix(0.8577,0,0,1,340.84,87.53)">s</text><text transform="matrix(0.9969,0,0,1,350.20,87.53)">A</text><text transform="matrix(1.0653,0,0,1,364.39,87.53)">2</text> <text transform="matrix(0.9819,0,0,1,382.78,87.53)">5</text> <text transform="matrix(1.2699,0,0,1,400.37,87.53)">μ</text><text transform="matrix(1.1967,0,0,1,414.04,87.53)">M</text></g>
<g font-family='"Liberation Sans", sans-serif' font-size="21.37" font-weight="normal" stroke="#000" stroke-width="0.45" stroke-linejoin="round"><text transform="matrix(0.8771,0,0,1,316.05,116.03)">C</text><text transform="matrix(1.0264,0,0,1,329.43,116.03)">y</text><text transform="matrix(0.8562,0,0,1,340.86,116.03)">s</text><text transform="matrix(0.9951,0,0,1,350.24,116.03)">A</text><text transform="matrix(1.0634,0,0,1,364.43,116.03)">2</text> <text transform="matrix(1.0749,0,0,1,381.99,116.03)">+</text> <text transform="matrix(1.0358,0,0,1,400.40,116.03)">N</text><text transform="matrix(0.8465,0,0,1,416.61,116.03)">a</text><text transform="matrix(1.0165,0,0,1,428.16,122.23)" font-size="14.53">2</text><text transform="matrix(0.7974,0,0,1,436.21,116.03)">S</text><text transform="matrix(1.0165,0,0,1,447.64,122.23)" font-size="14.53">2</text><text transform="matrix(1.0013,0,0,1,455.64,116.03)">O</text><text transform="matrix(0.9835,0,0,1,472.33,122.23)" font-size="14.53">3</text> <text transform="matrix(0.7842,0,0,1,486.61,116.03)">(</text><text transform="matrix(1.0059,0,0,1,493.83,116.03)">1</text><text transform="matrix(1.2800,0,0,1,505.29,116.03)">:</text><text transform="matrix(1.0059,0,0,1,512.94,116.03)">1</text><text transform="matrix(1.0995,0,0,1,524.68,116.03)">0</text> <text transform="matrix(1.2676,0,0,1,542.85,116.03)">μ</text><text transform="matrix(1.1946,0,0,1,556.54,116.03)">M</text><text transform="matrix(0.7827,0,0,1,578.87,116.03)">)</text></g>
<g font-family='"Liberation Sans", sans-serif' font-size="21.54" font-weight="normal" stroke="#000" stroke-width="0.45" stroke-linejoin="round"><text transform="matrix(0.8703,0,0,1,316.05,145.11)">C</text><text transform="matrix(1.0184,0,0,1,329.43,145.11)">y</text><text transform="matrix(0.8495,0,0,1,340.86,145.11)">s</text><text transform="matrix(0.9873,0,0,1,350.24,145.11)">A</text><text transform="matrix(1.0551,0,0,1,364.43,145.11)">2</text> <text transform="matrix(1.0665,0,0,1,381.99,145.11)">+</text> <text transform="matrix(0.9021,0,0,1,400.34,145.11)">K</text><text transform="matrix(0.8703,0,0,1,413.12,145.11)">C</text><text transform="matrix(1.0278,0,0,1,426.39,145.11)">N</text> <text transform="matrix(0.7800,0,0,1,448.70,145.11)">(</text><text transform="matrix(0.9980,0,0,1,455.92,145.11)">1</text><text transform="matrix(1.2800,0,0,1,467.35,145.11)">:</text><text transform="matrix(0.9980,0,0,1,475.04,145.11)">1</text><text transform="matrix(1.0910,0,0,1,486.77,145.11)">0</text> <text transform="matrix(1.2577,0,0,1,504.95,145.11)">μ</text><text transform="matrix(1.1853,0,0,1,518.64,145.11)">M</text><text transform="matrix(0.7800,0,0,1,540.96,145.11)">)</text></g>
<g font-family='"Liberation Sans", sans-serif' font-size="21.67" font-weight="normal" stroke="#000" stroke-width="0.45" stroke-linejoin="round"><text transform="matrix(0.8647,0,0,1,316.05,175.81)">C</text><text transform="matrix(1.0118,0,0,1,329.43,175.81)">y</text><text transform="matrix(0.8440,0,0,1,340.85,175.81)">s</text><text transform="matrix(0.9809,0,0,1,350.22,175.81)">A</text><text transform="matrix(1.0482,0,0,1,364.40,175.81)">2</text> <text transform="matrix(1.0596,0,0,1,381.95,175.81)">+</text> <text transform="matrix(0.8963,0,0,1,400.28,175.81)">K</text><text transform="matrix(0.8647,0,0,1,413.05,175.81)">C</text><text transform="matrix(1.0211,0,0,1,426.32,175.81)">N</text> <text transform="matrix(1.0596,0,0,1,447.29,175.81)">+</text> <text transform="matrix(1.0211,0,0,1,465.69,175.81)">N</text><text transform="matrix(0.8344,0,0,1,481.89,175.81)">a</text><text transform="matrix(1.0020,0,0,1,493.44,182.10)" font-size="14.73">2</text><text transform="matrix(0.7861,0,0,1,501.48,175.81)">S</text><text transform="matrix(1.0020,0,0,1,512.90,182.10)" font-size="14.73">2</text><text transform="matrix(0.9871,0,0,1,520.91,175.81)">O</text><text transform="matrix(0.9695,0,0,1,537.59,182.10)" font-size="14.73">3</text> <text transform="matrix(0.7800,0,0,1,551.83,175.81)">(</text><text transform="matrix(0.9916,0,0,1,559.07,175.81)">1</text><text transform="matrix(1.2800,0,0,1,570.47,175.81)">:</text><text transform="matrix(0.9916,0,0,1,578.17,175.81)">1</text><text transform="matrix(1.0839,0,0,1,589.90,175.81)">0</text><text transform="matrix(1.2800,0,0,1,602.08,175.81)">:</text><text transform="matrix(0.9916,0,0,1,609.78,175.81)">1</text><text transform="matrix(1.0839,0,0,1,621.51,175.81)">0</text> <text transform="matrix(1.2496,0,0,1,639.67,175.81)">μ</text><text transform="matrix(1.1776,0,0,1,653.35,175.81)">M</text><text transform="matrix(0.7800,0,0,1,675.64,175.81)">)</text></g>
<g font-family='"Liberation Sans", sans-serif' font-size="26.11" font-weight="bold" stroke="#000" stroke-width="0.40" stroke-linejoin="round"><text transform="matrix(0.7800,0,0,1,1181.21,118.50)">S</text><text transform="matrix(1.0089,0,0,1,1194.71,118.50)">e</text><text transform="matrix(0.8610,0,0,1,1209.23,118.50)">c</text><text transform="matrix(0.9862,0,0,1,1221.23,118.50)">o</text><text transform="matrix(0.9666,0,0,1,1236.90,118.50)">n</text><text transform="matrix(0.9733,0,0,1,1252.10,118.50)">d</text><text transform="matrix(0.8391,0,0,1,1268.07,118.50)">a</text><text transform="matrix(1.0263,0,0,1,1281.66,118.50)">r</text><text transform="matrix(0.9478,0,0,1,1291.95,118.50)">y</text> <text transform="matrix(0.7800,0,0,1,1312.17,118.50)">S</text><text transform="matrix(1.1519,0,0,1,1325.72,118.50)">t</text><text transform="matrix(1.0263,0,0,1,1335.56,118.50)">r</text><text transform="matrix(0.9666,0,0,1,1345.95,118.50)">u</text><text transform="matrix(0.8610,0,0,1,1361.33,118.50)">c</text><text transform="matrix(1.1519,0,0,1,1373.37,118.50)">t</text><text transform="matrix(0.9666,0,0,1,1383.38,118.50)">u</text><text transform="matrix(1.0263,0,0,1,1398.65,118.50)">r</text><text transform="matrix(1.0089,0,0,1,1408.95,118.50)">e</text></g>
<g font-family='"Liberation Sans", sans-serif' font-size="26.21" font-weight="bold" stroke="#000" stroke-width="0.40" stroke-linejoin="round"><text transform="matrix(0.8423,0,0,1,1228.59,160.25)">C</text><text transform="matrix(0.9892,0,0,1,1244.10,160.25)">o</text><text transform="matrix(0.9695,0,0,1,1259.88,160.25)">n</text><text transform="matrix(1.1554,0,0,1,1275.23,160.25)">t</text><text transform="matrix(1.0120,0,0,1,1285.23,160.25)">e</text><text transform="matrix(0.9695,0,0,1,1300.03,160.25)">n</text><text transform="matrix(1.1554,0,0,1,1315.39,160.25)">t</text>  <text transform="matrix(0.7924,0,0,1,1339.35,160.25)">(</text><text transform="matrix(0.8955,0,0,1,1347.78,160.25)">%</text><text transform="matrix(0.7924,0,0,1,1370.12,160.25)">)</text></g>
<g font-family='"Liberation Sans", sans-serif' font-size="25.77" font-weight="bold" stroke="#000" stroke-width="0.40" stroke-linejoin="round"><text transform="matrix(0.7899,0,0,1,876.11,227.01)">S</text><text transform="matrix(0.8508,0,0,1,890.15,227.01)">a</text><text transform="matrix(1.0221,0,0,1,904.03,227.01)">m</text><text transform="matrix(0.9879,0,0,1,927.43,227.01)">p</text><text transform="matrix(1.0094,0,0,1,942.76,227.01)">l</text><text transform="matrix(1.0230,0,0,1,949.74,227.01)">e</text></g>
<g font-family='"Liberation Sans", sans-serif' font-size="25.77" font-weight="bold" stroke="#000" stroke-width="0.40" stroke-linejoin="round"><text transform="matrix(1.0897,0,0,1,1186.66,227.11)">α</text></g>
<g font-family='"Liberation Sans", sans-serif' font-size="25.77" font-weight="bold" stroke="#000" stroke-width="0.40" stroke-linejoin="round"><text transform="matrix(0.9918,0,0,1,1309.75,227.11)">β</text></g>
<g font-family='"Liberation Sans", sans-serif' font-size="25.77" font-weight="bold" stroke="#000" stroke-width="0.40" stroke-linejoin="round"><text transform="matrix(0.9809,0,0,1,1411.10,227.11)">n</text><text transform="matrix(0.8118,0,0,1,1426.46,227.11)">s</text></g>
<g font-family='"Liberation Sans", sans-serif' font-size="25.62" font-weight="normal" stroke="#000" stroke-width="0.45" stroke-linejoin="round"><text transform="matrix(0.8563,0,0,1,875.89,302.61)">C</text><text transform="matrix(1.0020,0,0,1,891.55,302.61)">y</text><text transform="matrix(0.8359,0,0,1,904.93,302.61)">s</text><text transform="matrix(0.9714,0,0,1,915.90,302.61)">A</text><text transform="matrix(1.0381,0,0,1,932.51,302.61)">2</text><text transform="matrix(1.1958,0,0,1,947.01,302.61)">r</text></g>
<g font-family='"Liberation Sans", sans-serif' font-size="25.99" font-weight="normal" stroke="#000" stroke-width="0.45" stroke-linejoin="round"><text transform="matrix(0.9651,0,0,1,1181.06,302.62)">1</text><text transform="matrix(1.0078,0,0,1,1195.10,302.62)">8</text></g>
<g font-family='"Liberation Sans", sans-serif' font-size="25.99" font-weight="normal" stroke="#000" stroke-width="0.45" stroke-linejoin="round"><text transform="matrix(0.9872,0,0,1,1303.09,302.62)">3</text><text transform="matrix(0.9805,0,0,1,1317.97,302.62)">9</text></g>
<g font-family='"Liberation Sans", sans-serif' font-size="25.99" font-weight="normal" stroke="#000" stroke-width="0.45" stroke-linejoin="round"><text transform="matrix(1.0405,0,0,1,1409.72,302.62)">4</text><text transform="matrix(0.9805,0,0,1,1425.09,302.62)">9</text></g>
<g font-family='"Liberation Sans", sans-serif' font-size="25.62" font-weight="normal" stroke="#000" stroke-width="0.45" stroke-linejoin="round"><text transform="matrix(0.8504,0,0,1,875.89,377.11)">C</text><text transform="matrix(0.9951,0,0,1,891.45,377.11)">y</text><text transform="matrix(0.8301,0,0,1,904.73,377.11)">s</text><text transform="matrix(0.9648,0,0,1,915.63,377.11)">A</text><text transform="matrix(1.0310,0,0,1,932.13,377.11)">2</text> <text transform="matrix(0.8701,0,0,1,953.43,377.11)">P</text><text transform="matrix(0.9721,0,0,1,967.92,377.11)">D</text><text transform="matrix(0.9061,0,0,1,985.78,377.11)">B</text> <text transform="matrix(1.0076,0,0,1,1008.05,377.11)">–</text> <text transform="matrix(0.9975,0,0,1,1029.53,377.11)">3</text><text transform="matrix(0.9749,0,0,1,1043.62,377.11)">H</text><text transform="matrix(1.0503,0,0,1,1061.64,377.11)">W</text><text transform="matrix(1.0670,0,0,1,1086.93,377.11)">I</text></g>
<g font-family='"Liberation Sans", sans-serif' font-size="25.99" font-weight="normal" stroke="#000" stroke-width="0.45" stroke-linejoin="round"><text transform="matrix(1.0202,0,0,1,1180.96,377.12)">2</text><text transform="matrix(0.9805,0,0,1,1196.24,377.12)">9</text></g>
<g font-family='"Liberation Sans", sans-serif' font-size="25.99" font-weight="normal" stroke="#000" stroke-width="0.45" stroke-linejoin="round"><text transform="matrix(0.9651,0,0,1,1303.09,377.12)">1</text><text transform="matrix(0.9404,0,0,1,1317.44,377.12)">5</text></g>
<g font-family='"Liberation Sans", sans-serif' font-size="25.99" font-weight="normal" stroke="#000" stroke-width="0.45" stroke-linejoin="round"><text transform="matrix(0.9404,0,0,1,1409.78,377.12)">5</text><text transform="matrix(1.0261,0,0,1,1423.98,377.12)">6</text></g>
<g font-family='"Liberation Sans", sans-serif' font-size="25.62" font-weight="normal" stroke="#000" stroke-width="0.45" stroke-linejoin="round"><text transform="matrix(0.8525,0,0,1,875.89,453.11)">C</text><text transform="matrix(0.9975,0,0,1,891.49,453.11)">y</text><text transform="matrix(0.8321,0,0,1,904.80,453.11)">s</text><text transform="matrix(0.9671,0,0,1,915.73,453.11)">A</text><text transform="matrix(1.0335,0,0,1,932.26,453.11)">2</text><text transform="matrix(1.1905,0,0,1,946.69,453.11)">r</text> <text transform="matrix(1.0447,0,0,1,962.75,453.11)">+</text> <text transform="matrix(0.8837,0,0,1,984.12,453.11)">K</text><text transform="matrix(0.8525,0,0,1,999.01,453.11)">C</text><text transform="matrix(1.0067,0,0,1,1014.48,453.11)">N</text></g>
<g font-family='"Liberation Sans", sans-serif' font-size="25.99" font-weight="normal" stroke="#000" stroke-width="0.45" stroke-linejoin="round"><text transform="matrix(1.0202,0,0,1,1181.11,453.12)">2</text><text transform="matrix(0.9651,0,0,1,1196.33,453.12)">1</text></g>
<g font-family='"Liberation Sans", sans-serif' font-size="25.99" font-weight="normal" stroke="#000" stroke-width="0.45" stroke-linejoin="round"><text transform="matrix(0.9872,0,0,1,1303.09,453.12)">3</text><text transform="matrix(1.0261,0,0,1,1317.27,453.12)">6</text></g>
<g font-family='"Liberation Sans", sans-serif' font-size="25.99" font-weight="normal" stroke="#000" stroke-width="0.45" stroke-linejoin="round"><text transform="matrix(1.0405,0,0,1,1409.72,453.12)">4</text><text transform="matrix(0.9805,0,0,1,1425.09,453.12)">9</text></g>
<g font-family='"Liberation Sans", sans-serif' font-size="17.97" font-weight="normal" stroke="#000" stroke-width="0.45" stroke-linejoin="round"><text transform="matrix(1.0810,0,0,1,136.76,1110.84)">0</text></g>
<g font-family='"Liberation Sans", sans-serif' font-size="17.97" font-weight="normal" stroke="#000" stroke-width="0.45" stroke-linejoin="round"><text transform="matrix(1.0810,0,0,1,121.66,1067.83)">0</text><text transform="matrix(1.2800,0,0,1,131.60,1067.83)">.</text><text transform="matrix(0.9889,0,0,1,137.79,1067.83)">1</text></g>
<g font-family='"Liberation Sans", sans-serif' font-size="17.97" font-weight="normal" stroke="#000" stroke-width="0.45" stroke-linejoin="round"><text transform="matrix(1.0810,0,0,1,121.61,1024.82)">0</text><text transform="matrix(1.2800,0,0,1,131.55,1024.82)">.</text><text transform="matrix(1.0454,0,0,1,137.30,1024.82)">2</text></g>
<g font-family='"Liberation Sans", sans-serif' font-size="17.97" font-weight="normal" stroke="#000" stroke-width="0.45" stroke-linejoin="round"><text transform="matrix(1.0810,0,0,1,121.52,981.81)">0</text><text transform="matrix(1.2800,0,0,1,131.46,981.81)">.</text><text transform="matrix(1.0115,0,0,1,137.49,981.81)">3</text></g>
<g font-family='"Liberation Sans", sans-serif' font-size="17.97" font-weight="normal" stroke="#000" stroke-width="0.45" stroke-linejoin="round"><text transform="matrix(1.0810,0,0,1,121.08,938.80)">0</text><text transform="matrix(1.2800,0,0,1,131.02,938.80)">.</text><text transform="matrix(1.0662,0,0,1,136.71,938.80)">4</text></g>
<g font-family='"Liberation Sans", sans-serif' font-size="17.97" font-weight="normal" stroke="#000" stroke-width="0.45" stroke-linejoin="round"><text transform="matrix(1.0810,0,0,1,121.95,895.79)">0</text><text transform="matrix(1.2800,0,0,1,131.89,895.79)">.</text><text transform="matrix(0.9636,0,0,1,137.90,895.79)">5</text></g>
<g font-family='"Liberation Sans", sans-serif' font-size="17.97" font-weight="normal" stroke="#000" stroke-width="0.45" stroke-linejoin="round"><text transform="matrix(1.0810,0,0,1,121.45,852.78)">0</text><text transform="matrix(1.2800,0,0,1,131.39,852.78)">.</text><text transform="matrix(1.0514,0,0,1,137.12,852.78)">6</text></g>
<g font-family='"Liberation Sans", sans-serif' font-size="17.97" font-weight="normal" stroke="#000" stroke-width="0.45" stroke-linejoin="round"><text transform="matrix(1.0810,0,0,1,121.40,809.77)">0</text><text transform="matrix(1.2800,0,0,1,131.34,809.77)">.</text><text transform="matrix(1.0660,0,0,1,137.11,809.77)">7</text></g>
<g font-family='"Liberation Sans", sans-serif' font-size="17.97" font-weight="normal" stroke="#000" stroke-width="0.45" stroke-linejoin="round"><text transform="matrix(1.0810,0,0,1,121.56,766.76)">0</text><text transform="matrix(1.2800,0,0,1,131.50,766.76)">.</text><text transform="matrix(1.0327,0,0,1,137.29,766.76)">8</text></g>
<g font-family='"Liberation Sans", sans-serif' font-size="17.97" font-weight="normal" stroke="#000" stroke-width="0.45" stroke-linejoin="round"><text transform="matrix(1.0810,0,0,1,121.44,723.75)">0</text><text transform="matrix(1.2800,0,0,1,131.38,723.75)">.</text><text transform="matrix(1.0047,0,0,1,137.62,723.75)">9</text></g>
<g font-family='"Liberation Sans", sans-serif' font-size="17.97" font-weight="normal" stroke="#000" stroke-width="0.45" stroke-linejoin="round"><text transform="matrix(0.9889,0,0,1,137.79,680.74)">1</text></g>
<g font-family='"Liberation Sans", sans-serif' font-size="17.80" font-weight="normal" stroke="#000" stroke-width="0.45" stroke-linejoin="round"><text transform="matrix(1.0553,0,0,1,156.14,1136.04)">2</text><text transform="matrix(1.0912,0,0,1,166.28,1136.04)">0</text></g>
<g font-family='"Liberation Sans", sans-serif' font-size="17.80" font-weight="normal" stroke="#000" stroke-width="0.45" stroke-linejoin="round"><text transform="matrix(1.0211,0,0,1,225.81,1136.04)">3</text><text transform="matrix(1.0912,0,0,1,235.66,1136.04)">0</text></g>
<g font-family='"Liberation Sans", sans-serif' font-size="17.80" font-weight="normal" stroke="#000" stroke-width="0.45" stroke-linejoin="round"><text transform="matrix(1.0762,0,0,1,295.16,1136.04)">4</text><text transform="matrix(1.0912,0,0,1,305.36,1136.04)">0</text></g>
<g font-family='"Liberation Sans", sans-serif' font-size="17.80" font-weight="normal" stroke="#000" stroke-width="0.45" stroke-linejoin="round"><text transform="matrix(0.9727,0,0,1,364.59,1136.04)">5</text><text transform="matrix(1.0912,0,0,1,374.47,1136.04)">0</text></g>
<g font-family='"Liberation Sans", sans-serif' font-size="17.80" font-weight="normal" stroke="#000" stroke-width="0.45" stroke-linejoin="round"><text transform="matrix(1.0613,0,0,1,433.72,1136.04)">6</text><text transform="matrix(1.0912,0,0,1,443.88,1136.04)">0</text></g>
<g font-family='"Liberation Sans", sans-serif' font-size="17.80" font-weight="normal" stroke="#000" stroke-width="0.45" stroke-linejoin="round"><text transform="matrix(1.0760,0,0,1,503.13,1136.04)">7</text><text transform="matrix(1.0912,0,0,1,513.25,1136.04)">0</text></g>
<g font-family='"Liberation Sans", sans-serif' font-size="17.80" font-weight="normal" stroke="#000" stroke-width="0.45" stroke-linejoin="round"><text transform="matrix(1.0424,0,0,1,572.63,1136.04)">8</text><text transform="matrix(1.0912,0,0,1,582.72,1136.04)">0</text></g>
<g font-family='"Liberation Sans", sans-serif' font-size="17.80" font-weight="normal" stroke="#000" stroke-width="0.45" stroke-linejoin="round"><text transform="matrix(1.0141,0,0,1,642.23,1136.04)">9</text><text transform="matrix(1.0912,0,0,1,651.88,1136.04)">0</text></g>
<g font-family='"Liberation Sans", sans-serif' font-size="17.80" font-weight="normal" stroke="#000" stroke-width="0.45" stroke-linejoin="round"><text transform="matrix(0.9982,0,0,1,706.18,1136.04)">1</text><text transform="matrix(1.0912,0,0,1,715.88,1136.04)">0</text><text transform="matrix(1.0912,0,0,1,726.22,1136.04)">0</text></g>
<g font-family='"Liberation Sans", sans-serif' font-size="29.77" font-weight="bold" stroke="#000" stroke-width="0.40" stroke-linejoin="round"><text transform="matrix(0.8948,0,0,1,325.90,1184.83)">T</text><text transform="matrix(1.0108,0,0,1,342.01,1184.83)">e</text><text transform="matrix(1.0100,0,0,1,358.78,1184.83)">m</text><text transform="matrix(0.9762,0,0,1,385.48,1184.83)">p</text><text transform="matrix(1.0108,0,0,1,402.88,1184.83)">e</text><text transform="matrix(1.0282,0,0,1,419.33,1184.83)">r</text><text transform="matrix(0.8407,0,0,1,431.70,1184.83)">a</text><text transform="matrix(1.1540,0,0,1,447.36,1184.83)">t</text><text transform="matrix(0.9684,0,0,1,458.79,1184.83)">u</text><text transform="matrix(1.0282,0,0,1,476.23,1184.83)">r</text><text transform="matrix(1.0108,0,0,1,487.99,1184.83)">e</text> <text transform="matrix(0.7915,0,0,1,512.95,1184.83)">(</text><text transform="matrix(1.1671,0,0,1,521.00,1184.83)">°</text><text transform="matrix(0.8413,0,0,1,533.24,1184.83)">C</text><text transform="matrix(0.7915,0,0,1,552.53,1184.83)">)</text></g>
<g font-family='"Liberation Sans", sans-serif' font-size="26.40" font-weight="bold" stroke="#000" stroke-width="0.40" stroke-linejoin="round"><text transform="matrix(0,-0.9949,1,0,71.78,1057.36)">N</text><text transform="matrix(0,-0.9708,1,0,71.78,1038.59)">o</text><text transform="matrix(0,-1.0102,1,0,71.78,1023.29)">r</text><text transform="matrix(0,-0.9923,1,0,71.78,1012.84)">m</text><text transform="matrix(0,-0.8259,1,0,71.78,989.24)">a</text><text transform="matrix(0,-0.9799,1,0,71.78,975.56)">l</text><text transform="matrix(0,-1.2345,1,0,71.78,969.49)">i</text><text transform="matrix(0,-0.8817,1,0,71.78,961.61)">z</text><text transform="matrix(0,-0.9931,1,0,71.78,950.21)">e</text><text transform="matrix(0,-0.9580,1,0,71.78,935.82)">d</text> <text transform="matrix(0,-1.0341,1,0,71.78,914.03)">f</text><text transform="matrix(0,-1.0102,1,0,71.78,905.01)">r</text><text transform="matrix(0,-0.8259,1,0,71.78,894.23)">a</text><text transform="matrix(0,-0.8475,1,0,71.78,880.59)">c</text><text transform="matrix(0,-1.1338,1,0,71.78,868.61)">t</text><text transform="matrix(0,-1.2345,1,0,71.78,859.61)">i</text><text transform="matrix(0,-0.9708,1,0,71.78,851.70)">o</text><text transform="matrix(0,-0.9514,1,0,71.78,836.11)">n</text> <text transform="matrix(0,-0.9514,1,0,71.78,814.42)">u</text><text transform="matrix(0,-0.9514,1,0,71.78,798.93)">n</text><text transform="matrix(0,-1.0341,1,0,71.78,783.84)">f</text><text transform="matrix(0,-0.9708,1,0,71.78,774.73)">o</text><text transform="matrix(0,-0.9799,1,0,71.78,759.27)">l</text><text transform="matrix(0,-0.9580,1,0,71.78,752.34)">d</text><text transform="matrix(0,-0.9931,1,0,71.78,736.97)">e</text><text transform="matrix(0,-0.9580,1,0,71.78,722.58)">d</text></g>
<g font-family='"Liberation Sans", sans-serif' font-size="29.49" font-weight="normal" stroke="#000" stroke-width="0.45" stroke-linejoin="round"><text transform="matrix(0.9125,0,0,1,483.00,921.25)">T</text><text transform="matrix(1.0526,0,0,1,499.49,921.25)">m</text><text transform="matrix(0.9289,0,0,1,525.57,921.25)">=</text><text transform="matrix(0.9439,0,0,1,542.12,921.25)">5</text><text transform="matrix(1.0116,0,0,1,558.39,921.25)">8</text><text transform="matrix(1.2800,0,0,1,573.88,921.25)">.</text><text transform="matrix(0.9908,0,0,1,583.69,921.25)">3</text><text transform="matrix(1.0535,0,0,1,599.82,911.52)" font-size="19.47">o</text><text transform="matrix(0.8447,0,0,1,610.96,921.25)">C</text></g>
<g font-family='"Liberation Sans", sans-serif' font-size="21.73" font-weight="normal" stroke="#000" stroke-width="0.45" stroke-linejoin="round"><text transform="matrix(1.0337,0,0,1,842.71,1114.85)">2</text><text transform="matrix(1.2800,0,0,1,854.31,1114.85)">.</text><text transform="matrix(0.9934,0,0,1,861.82,1114.85)">9</text></g>
<g font-family='"Liberation Sans", sans-serif' font-size="21.73" font-weight="normal" stroke="#000" stroke-width="0.45" stroke-linejoin="round"><text transform="matrix(1.0002,0,0,1,843.31,1038.10)">3</text><text transform="matrix(1.2800,0,0,1,854.57,1038.10)">.</text><text transform="matrix(0.9778,0,0,1,862.02,1038.10)">1</text></g>
<g font-family='"Liberation Sans", sans-serif' font-size="21.73" font-weight="normal" stroke="#000" stroke-width="0.45" stroke-linejoin="round"><text transform="matrix(1.0002,0,0,1,843.14,961.35)">3</text><text transform="matrix(1.2800,0,0,1,854.41,961.35)">.</text><text transform="matrix(1.0002,0,0,1,861.67,961.35)">3</text></g>
<g font-family='"Liberation Sans", sans-serif' font-size="21.73" font-weight="normal" stroke="#000" stroke-width="0.45" stroke-linejoin="round"><text transform="matrix(1.0002,0,0,1,843.65,884.60)">3</text><text transform="matrix(1.2800,0,0,1,854.92,884.60)">.</text><text transform="matrix(0.9528,0,0,1,862.15,884.60)">5</text></g>
<g font-family='"Liberation Sans", sans-serif' font-size="21.73" font-weight="normal" stroke="#000" stroke-width="0.45" stroke-linejoin="round"><text transform="matrix(1.0002,0,0,1,843.00,807.85)">3</text><text transform="matrix(1.2800,0,0,1,854.26,807.85)">.</text><text transform="matrix(1.0541,0,0,1,861.21,807.85)">7</text></g>
<g font-family='"Liberation Sans", sans-serif' font-size="21.73" font-weight="normal" stroke="#000" stroke-width="0.45" stroke-linejoin="round"><text transform="matrix(1.0002,0,0,1,843.04,731.10)">3</text><text transform="matrix(1.2800,0,0,1,854.31,731.10)">.</text><text transform="matrix(0.9934,0,0,1,861.82,731.10)">9</text></g>
<g font-family='"Liberation Sans", sans-serif' font-size="21.73" font-weight="normal" stroke="#000" stroke-width="0.45" stroke-linejoin="round"><text transform="matrix(1.0689,0,0,1,889.94,1145.45)">0</text></g>
<g font-family='"Liberation Sans", sans-serif' font-size="21.73" font-weight="normal" stroke="#000" stroke-width="0.45" stroke-linejoin="round"><text transform="matrix(1.0337,0,0,1,966.81,1145.45)">2</text><text transform="matrix(1.0689,0,0,1,978.93,1145.45)">0</text></g>
<g font-family='"Liberation Sans", sans-serif' font-size="21.73" font-weight="normal" stroke="#000" stroke-width="0.45" stroke-linejoin="round"><text transform="matrix(1.0543,0,0,1,1050.11,1145.45)">4</text><text transform="matrix(1.0689,0,0,1,1062.31,1145.45)">0</text></g>
<g font-family='"Liberation Sans", sans-serif' font-size="21.73" font-weight="normal" stroke="#000" stroke-width="0.45" stroke-linejoin="round"><text transform="matrix(1.0396,0,0,1,1132.87,1145.45)">6</text><text transform="matrix(1.0689,0,0,1,1145.01,1145.45)">0</text></g>
<g font-family='"Liberation Sans", sans-serif' font-size="21.73" font-weight="normal" stroke="#000" stroke-width="0.45" stroke-linejoin="round"><text transform="matrix(1.0211,0,0,1,1216.03,1145.45)">8</text><text transform="matrix(1.0689,0,0,1,1228.11,1145.45)">0</text></g>
<g font-family='"Liberation Sans", sans-serif' font-size="21.73" font-weight="normal" stroke="#000" stroke-width="0.45" stroke-linejoin="round"><text transform="matrix(0.9778,0,0,1,1292.80,1145.45)">1</text><text transform="matrix(1.0689,0,0,1,1304.40,1145.45)">0</text><text transform="matrix(1.0689,0,0,1,1316.77,1145.45)">0</text></g>
<g font-family='"Liberation Sans", sans-serif' font-size="21.73" font-weight="normal" stroke="#000" stroke-width="0.45" stroke-linejoin="round"><text transform="matrix(0.9778,0,0,1,1375.84,1145.45)">1</text><text transform="matrix(1.0337,0,0,1,1387.68,1145.45)">2</text><text transform="matrix(1.0689,0,0,1,1399.81,1145.45)">0</text></g>
<g font-family='"Liberation Sans", sans-serif' font-size="21.73" font-weight="normal" stroke="#000" stroke-width="0.45" stroke-linejoin="round"><text transform="matrix(0.9778,0,0,1,1458.88,1145.45)">1</text><text transform="matrix(1.0543,0,0,1,1470.65,1145.45)">4</text><text transform="matrix(1.0689,0,0,1,1482.85,1145.45)">0</text></g>
<g font-family='"Liberation Sans", sans-serif' font-size="29.82" font-weight="bold" stroke="#000" stroke-width="0.40" stroke-linejoin="round"><text transform="matrix(0.8926,0,0,1,1119.90,1190.03)">T</text><text transform="matrix(1.2534,0,0,1,1135.00,1190.03)">i</text><text transform="matrix(1.0075,0,0,1,1144.30,1190.03)">m</text><text transform="matrix(1.0083,0,0,1,1170.76,1190.03)">e</text> <text transform="matrix(0.7895,0,0,1,1195.70,1190.03)">(</text><text transform="matrix(1.0075,0,0,1,1205.17,1190.03)">m</text><text transform="matrix(1.2534,0,0,1,1230.63,1190.03)">i</text><text transform="matrix(0.9660,0,0,1,1239.95,1190.03)">n</text><text transform="matrix(0.7895,0,0,1,1259.03,1190.03)">)</text></g>
<g font-family='"Liberation Sans", sans-serif' font-size="30.26" font-weight="bold" stroke="#000" stroke-width="0.40" stroke-linejoin="round"><text transform="matrix(0,-0.7800,1,0,827.16,951.17)" font-style="italic">R</text> <text transform="matrix(0,-0.7848,1,0,827.16,924.85)">(</text><text transform="matrix(0,-0.9602,1,0,827.16,915.29)">n</text><text transform="matrix(0,-1.0014,1,0,827.16,897.55)">m</text><text transform="matrix(0,-0.7848,1,0,827.16,869.12)">)</text></g>
<g font-family='"Liberation Sans", sans-serif' font-size="21.54" font-weight="normal" stroke="#000" stroke-width="0.45" stroke-linejoin="round"><text transform="matrix(0.8686,0,0,1,1178.55,926.44)">C</text><text transform="matrix(1.0164,0,0,1,1191.91,926.44)">y</text><text transform="matrix(0.8478,0,0,1,1203.31,926.44)">s</text><text transform="matrix(0.9854,0,0,1,1212.67,926.44)">A</text><text transform="matrix(1.0530,0,0,1,1226.83,926.44)">2</text></g>
<g font-family='"Liberation Sans", sans-serif' font-size="21.39" font-weight="normal" stroke="#000" stroke-width="0.45" stroke-linejoin="round"><text transform="matrix(0.8759,0,0,1,1178.55,954.58)">C</text><text transform="matrix(1.0250,0,0,1,1191.93,954.58)">y</text><text transform="matrix(0.8550,0,0,1,1203.35,954.58)">s</text><text transform="matrix(0.9937,0,0,1,1212.72,954.58)">A</text><text transform="matrix(1.0619,0,0,1,1226.91,954.58)">2</text> <text transform="matrix(1.0734,0,0,1,1244.46,954.58)">+</text> <text transform="matrix(1.0344,0,0,1,1262.87,954.58)">N</text><text transform="matrix(0.8453,0,0,1,1279.07,954.58)">a</text><text transform="matrix(1.0150,0,0,1,1290.63,960.79)" font-size="14.55">2</text><text transform="matrix(0.7963,0,0,1,1298.67,954.58)">S</text><text transform="matrix(1.0150,0,0,1,1310.09,960.79)" font-size="14.55">2</text><text transform="matrix(0.9999,0,0,1,1318.10,954.58)">O</text><text transform="matrix(0.9821,0,0,1,1334.78,960.79)" font-size="14.55">3</text></g>
<g font-family='"Liberation Sans", sans-serif' font-size="21.82" font-weight="normal" stroke="#000" stroke-width="0.45" stroke-linejoin="round"><text transform="matrix(0.8551,0,0,1,1178.55,983.33)">C</text><text transform="matrix(1.0006,0,0,1,1191.88,983.33)">y</text><text transform="matrix(0.8347,0,0,1,1203.25,983.33)">s</text><text transform="matrix(0.9701,0,0,1,1212.58,983.33)">A</text><text transform="matrix(1.0366,0,0,1,1226.71,983.33)">2</text> <text transform="matrix(1.0478,0,0,1,1244.19,983.33)">+</text> <text transform="matrix(0.8864,0,0,1,1262.45,983.33)">K</text><text transform="matrix(0.8551,0,0,1,1275.17,983.33)">C</text><text transform="matrix(1.0098,0,0,1,1288.38,983.33)">N</text></g>
<g font-family='"Liberation Sans", sans-serif' font-size="21.59" font-weight="normal" stroke="#000" stroke-width="0.45" stroke-linejoin="round"><text transform="matrix(0.8682,0,0,1,1178.55,1013.85)">C</text><text transform="matrix(1.0159,0,0,1,1191.93,1013.85)">y</text><text transform="matrix(0.8475,0,0,1,1203.36,1013.85)">s</text><text transform="matrix(0.9849,0,0,1,1212.73,1013.85)">A</text><text transform="matrix(1.0525,0,0,1,1226.92,1013.85)">2</text> <text transform="matrix(1.0639,0,0,1,1244.47,1013.85)">+</text> <text transform="matrix(0.9000,0,0,1,1262.81,1013.85)">K</text><text transform="matrix(0.8682,0,0,1,1275.59,1013.85)">C</text><text transform="matrix(1.0253,0,0,1,1288.86,1013.85)">N</text> <text transform="matrix(1.0639,0,0,1,1309.83,1013.85)">+</text> <text transform="matrix(1.0253,0,0,1,1328.24,1013.85)">N</text><text transform="matrix(0.8378,0,0,1,1344.44,1013.85)">a</text><text transform="matrix(1.0061,0,0,1,1356.00,1020.11)" font-size="14.68">2</text><text transform="matrix(0.8125,0,0,1,1363.79,1013.85)" font-style="italic">S</text><text transform="matrix(1.0061,0,0,1,1375.29,1020.11)" font-size="14.68">2</text><text transform="matrix(0.9911,0,0,1,1383.30,1013.85)">O</text><text transform="matrix(0.9735,0,0,1,1399.98,1020.11)" font-size="14.68">3</text></g></svg>
</body></html>
